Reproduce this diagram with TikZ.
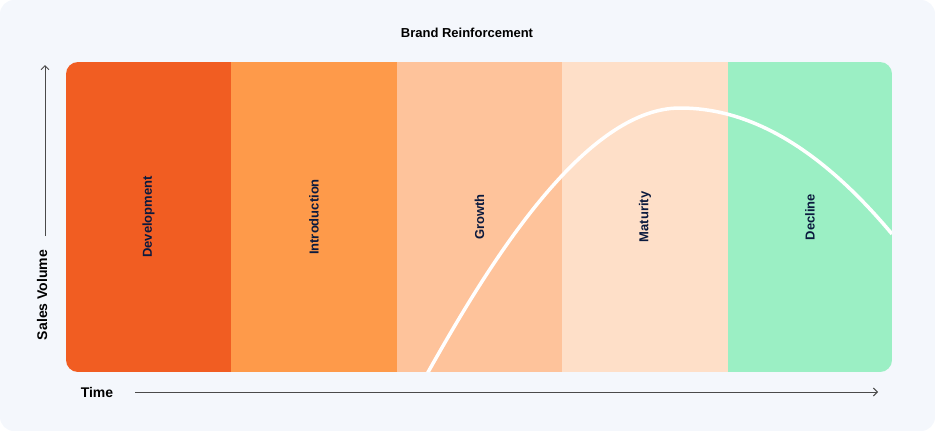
\documentclass[tikz,border=0pt]{standalone}
\usepackage{fontspec}
\setmainfont{Liberation Sans}
\usetikzlibrary{arrows.meta}
\definecolor{cA}{HTML}{F15D22}
\definecolor{cB}{HTML}{FE9A4A}
\definecolor{cC}{HTML}{FEC39B}
\definecolor{cD}{HTML}{FEDFC8}
\definecolor{cE}{HTML}{9BEFC4}
\definecolor{bg}{HTML}{F4F7FC}
\definecolor{navy}{HTML}{0B1A3E}
\definecolor{axis}{HTML}{4A4A4A}
\begin{document}
\begin{tikzpicture}[x=1pt,y=-1pt,
  lbl/.style={font=\bfseries\fontsize{13}{15}\selectfont,text=navy,rotate=90},
  ax/.style={draw=axis,line width=1pt,-{Straight Barb[length=4pt]}}]
\useasboundingbox (0,0) rectangle (935,431);
\fill[bg,rounded corners=14pt] (0,0) rectangle (935,431);
\begin{scope}
\clip[rounded corners=12pt] (66,62) rectangle (892,372);
\fill[cA] (66,62) rectangle (231,372);
\fill[cB] (231,62) rectangle (397,372);
\fill[cC] (397,62) rectangle (562,372);
\fill[cD] (562,62) rectangle (728,372);
\fill[cE] (728,62) rectangle (892,372);
\draw[white,line width=3.5pt] (427,374) .. controls (480,280) and (580,108) .. (680,108) .. controls (760,108) and (830,160) .. (892,234);
\end{scope}
\node[lbl] (dev) at (148.5,217) {Development};
\node[lbl] (intro) at (314,217) {Introduction};
\node[lbl] (gro) at (479.5,217) {Growth};
\node[lbl] (mat) at (645,217) {Maturity};
\node[lbl] (dec) at (810,217) {Decline};
\node[font=\bfseries\fontsize{13}{15}\selectfont,text=black] (title) at (467,33) {Brand Reinforcement};
\node[font=\bfseries\fontsize{14}{16}\selectfont,rotate=90,text=black] (sv) at (42,295) {Sales Volume};
\node[font=\bfseries\fontsize{14}{16}\selectfont,text=black] (time) at (97,392) {Time};
\coordinate (ybot) at (45,236);
\coordinate (ytop) at (45,65);
\coordinate (xstart) at (135,392);
\coordinate (xend) at (878,392);
\draw[ax] (ybot) -- (ytop);
\draw[ax] (xstart) -- (xend);
\end{tikzpicture}
\end{document}
